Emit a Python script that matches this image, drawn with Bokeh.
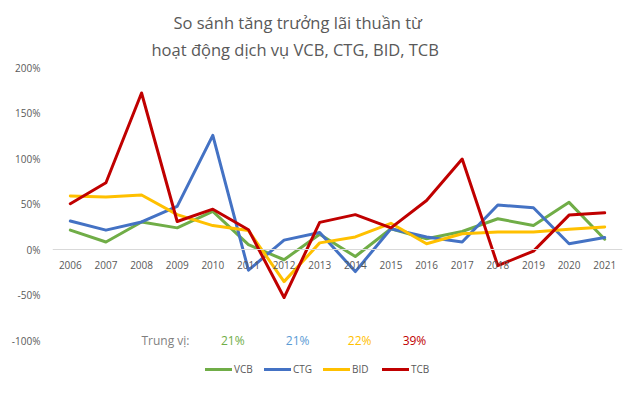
from bokeh.plotting import figure
from bokeh.models import Range1d, FixedTicker, Legend, LegendItem, Label, Title
from bokeh.embed import file_html
from bokeh.resources import INLINE

# ---------------- data ----------------
years = list(range(2006, 2022))
vcb = [21.5, 8.5, 30.5, 24, 42, 5.5, -11, 17, -7.5, 23, 12, 20, 34, 26.5, 52, 11.5]
ctg = [31.5, 21.5, 30.5, 47.5, 125.5, -22.5, 10.5, 19, -24, 23, 14, 8.5, 49, 46, 6.5, 13.5]
bid = [59, 58, 60, 38.5, 26.5, 21, -35, 7.5, 14, 29, 6.5, 17.5, 19.5, 19.5, 22.5, 25]
tcb = [50.5, 73.5, 172, 31, 44.5, 22, -52.5, 30, 38.5, 24, 54, 99.5, -17.5, -1.5, 38, 40.5]
series_names = ["VCB", "CTG", "BID", "TCB"]
median_labels = ["21%", "21%", "22%", "39%"]
median_title = "Trung vị:"
y_ticks = [-100, -50, 0, 50, 100, 150, 200]
title_lines = ["So sánh tăng trưởng lãi thuần từ", "hoạt động dịch vụ VCB, CTG, BID, TCB"]

# ---------------- style ----------------
FONT = "Open Sans"
colors = ["#70AD47", "#4472C4", "#FFC000", "#C00000"]
median_colors = ["#70AD47", "#5B9BD5", "#FFC000", "#C00000"]
text_gray = "#595959"

p = figure(width=630, height=395,
           x_range=Range1d(2005.5, 2021.5), y_range=Range1d(-160, 200),
           output_backend="svg", toolbar_location=None, title=None,
           min_border_left=52, min_border_right=8, min_border_top=67, min_border_bottom=0)
p.outline_line_color = None
p.xgrid.visible = False
p.ygrid.visible = False
p.background_fill_color = "white"
p.border_fill_color = "white"

# title (two centred lines)
title_offsets = [121, 99]
t2 = Title(text=title_lines[1], align="left", offset=title_offsets[1], text_font=FONT,
           text_font_size="16.5px", text_font_style="normal", text_color=text_gray, standoff=13)
t1 = Title(text=title_lines[0], align="left", offset=title_offsets[0], text_font=FONT,
           text_font_size="16.5px", text_font_style="normal", text_color=text_gray, standoff=-9)
p.add_layout(t2, "above")
p.add_layout(t1, "above")

# x axis at zero
xa = p.xaxis[0]
xa.ticker = FixedTicker(ticks=years)
xa.fixed_location = 0
xa.axis_line_color = "#d9d9d9"
xa.axis_line_width = 1
xa.major_tick_line_color = None
xa.minor_tick_line_color = None
xa.major_tick_out = 0
xa.major_tick_in = 0
xa.minor_tick_out = 0
xa.major_label_text_font = FONT
xa.major_label_text_font_size = "10px"
xa.major_label_text_color = text_gray
xa.major_label_standoff = 11

# y axis
ya = p.yaxis[0]
ya.ticker = FixedTicker(ticks=y_ticks)
ya.major_label_overrides = {t: f"{t}%" for t in y_ticks}
ya.axis_line_color = None
ya.major_tick_line_color = None
ya.minor_tick_line_color = None
ya.major_tick_out = 0
ya.major_tick_in = 0
ya.minor_tick_out = 0
ya.major_label_text_font = FONT
ya.major_label_text_font_size = "10px"
ya.major_label_text_color = text_gray
ya.major_label_standoff = 12

renderers = []
for name, vals, c in zip(series_names, [vcb, ctg, bid, tcb], colors):
    r = p.line(years, vals, line_color=c, line_width=3, line_join="round", line_cap="round")
    renderers.append(r)

legend = Legend(items=[LegendItem(label=n, renderers=[r]) for n, r in zip(series_names, renderers)],
                orientation="horizontal", location=(153, 19),
                label_text_font=FONT, label_text_font_size="10px", label_text_color=text_gray,
                glyph_width=27, glyph_height=12, label_height=12, label_standoff=2,
                spacing=10, padding=0, margin=0,
                background_fill_alpha=0, border_line_color=None)
p.add_layout(legend, "center")

# median row
median_x = [2010.56, 2012.38, 2014.12, 2015.66]
p.add_layout(Label(x=2008.67, y=-100, text=median_title, text_align="center", text_baseline="middle",
                   text_font=FONT, text_font_size="12px", text_color="#7f7f7f"))
for xm, t, c in zip(median_x, median_labels, median_colors):
    p.add_layout(Label(x=xm, y=-100, text=t, text_align="center", text_baseline="middle",
                       text_font=FONT, text_font_size="12px", text_color=c))

open("out.html", "w").write(file_html(p, INLINE))
